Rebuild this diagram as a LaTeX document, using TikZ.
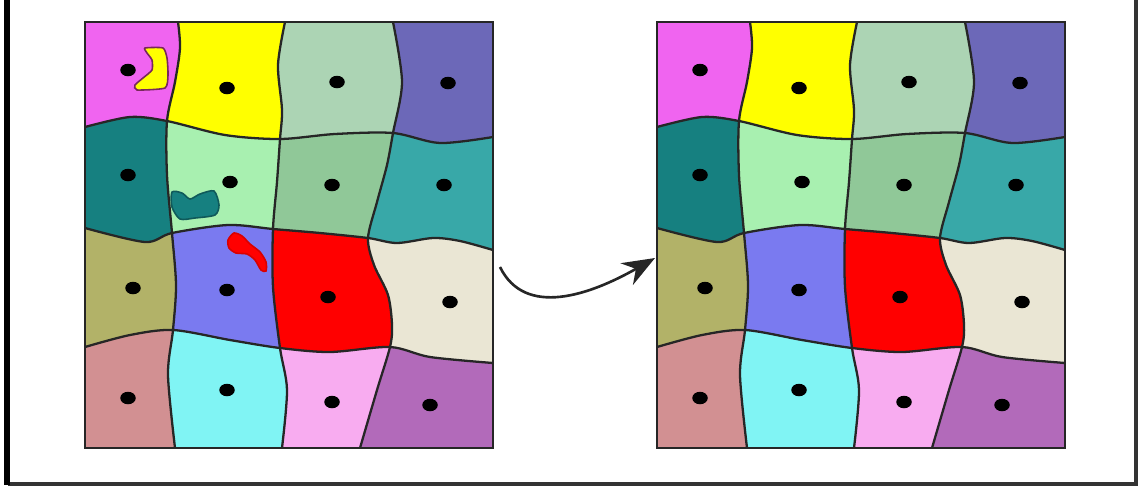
\documentclass[tikz,border=0pt]{standalone}
\usetikzlibrary{arrows.meta,shapes.geometric}

\definecolor{cellmagenta}{RGB}{240,100,240}
\definecolor{cellyellow}{RGB}{255,255,0}
\definecolor{cellpalesage}{RGB}{172,212,180}
\definecolor{cellslate}{RGB}{108,104,184}
\definecolor{cellteal}{RGB}{22,128,128}
\definecolor{cellmint}{RGB}{168,240,176}
\definecolor{cellsage}{RGB}{144,200,152}
\definecolor{cellseagreen}{RGB}{56,168,168}
\definecolor{cellolive}{RGB}{178,178,104}
\definecolor{cellperiwinkle}{RGB}{122,122,240}
\definecolor{cellred}{RGB}{255,0,0}
\definecolor{cellcream}{RGB}{234,230,212}
\definecolor{cellrose}{RGB}{210,144,146}
\definecolor{cellcyan}{RGB}{128,244,244}
\definecolor{cellpink}{RGB}{248,172,240}
\definecolor{cellorchid}{RGB}{178,106,186}
\definecolor{islandedge}{RGB}{120,40,90}

\tikzset{
  cellline/.style={draw=black!85, line width=1.3pt},
  seed/.style={ellipse, fill=black, inner sep=0pt, minimum width=0.31cm, minimum height=0.25cm},
  island/.style={line width=0.9pt},
  flow/.style={-{Stealth[length=6.5mm,width=5mm]}, line width=1.5pt, draw=black!85}
}

% cell boundaries (pixel units), vertical ones top to bottom
\def\vcurveO{(85,22) -- (85,448)}
\def\vcurveA{plot[smooth] coordinates {(178,22) (180,48) (175,82) (167,121) (167,175) (172,233) (176,285) (173,330) (168,375) (175,448)}}
\def\vcurveB{plot[smooth] coordinates {(285,22) (278,65) (282,110) (280,139) (277,182) (273,229) (273,287) (280,348) (287,390) (282,448)}}
\def\vcurveC{plot[smooth] coordinates {(393,22) (402,82) (393,133) (387,165) (377,202) (368,238) (374,265) (388,295) (392,325) (390,347) (377,390) (360,448)}}
\def\vcurveD{(493,22) -- (493,448)}
% horizontal ones left to right
\def\hcurveO{(85,22) -- (493,22)}
\def\hcurveA{plot[smooth] coordinates {(85,127) (130,117) (167,121) (225,135) (280,139) (335,134) (393,133) (440,143) (493,137)}}
\def\hcurveB{plot[smooth] coordinates {(85,228) (145,242) (172,233) (228,225) (273,229) (320,233) (368,238) (397,243) (433,238) (460,241) (493,250)}}
\def\hcurveC{plot[smooth] coordinates {(85,347) (130,335) (173,330) (230,340) (280,348) (330,352) (390,347) (430,357) (493,363)}}
\def\hcurveD{(85,448) -- (493,448)}

% #1 colour, #2 left, #3 right, #4 top, #5 bottom boundary
\newcommand{\fillcell}[5]{%
  \begin{scope}
    \clip #2 -- (600,500) -- (600,0) -- cycle;
    \clip #3 -- (0,500) -- (0,0) -- cycle;
    \clip #4 -- (600,500) -- (0,500) -- cycle;
    \clip #5 -- (600,0) -- (0,0) -- cycle;
    \fill[#1] (85,22) rectangle (493,448);
  \end{scope}}

\newcommand{\voronoigrid}[1]{%
  % cells
  \fillcell{cellmagenta}{\vcurveO}{\vcurveA}{\hcurveO}{\hcurveA}
  \fillcell{cellyellow}{\vcurveA}{\vcurveB}{\hcurveO}{\hcurveA}
  \fillcell{cellpalesage}{\vcurveB}{\vcurveC}{\hcurveO}{\hcurveA}
  \fillcell{cellslate}{\vcurveC}{\vcurveD}{\hcurveO}{\hcurveA}
  \fillcell{cellteal}{\vcurveO}{\vcurveA}{\hcurveA}{\hcurveB}
  \fillcell{cellmint}{\vcurveA}{\vcurveB}{\hcurveA}{\hcurveB}
  \fillcell{cellsage}{\vcurveB}{\vcurveC}{\hcurveA}{\hcurveB}
  \fillcell{cellseagreen}{\vcurveC}{\vcurveD}{\hcurveA}{\hcurveB}
  \fillcell{cellolive}{\vcurveO}{\vcurveA}{\hcurveB}{\hcurveC}
  \fillcell{cellperiwinkle}{\vcurveA}{\vcurveB}{\hcurveB}{\hcurveC}
  \fillcell{cellred}{\vcurveB}{\vcurveC}{\hcurveB}{\hcurveC}
  \fillcell{cellcream}{\vcurveC}{\vcurveD}{\hcurveB}{\hcurveC}
  \fillcell{cellrose}{\vcurveO}{\vcurveA}{\hcurveC}{\hcurveD}
  \fillcell{cellcyan}{\vcurveA}{\vcurveB}{\hcurveC}{\hcurveD}
  \fillcell{cellpink}{\vcurveB}{\vcurveC}{\hcurveC}{\hcurveD}
  \fillcell{cellorchid}{\vcurveC}{\vcurveD}{\hcurveC}{\hcurveD}
  % borders
  \draw[cellline] \vcurveA;
  \draw[cellline] \vcurveB;
  \draw[cellline] \vcurveC;
  \draw[cellline] \hcurveA;
  \draw[cellline] \hcurveB;
  \draw[cellline] \hcurveC;
  \draw[cellline] (85,22) rectangle (493,448);
  % seeds
  \node (#1s11) at (128,70) [seed] {};
  \node (#1s12) at (227,88) [seed] {};
  \node (#1s13) at (337,82) [seed] {};
  \node (#1s14) at (448,83) [seed] {};
  \node (#1s21) at (128,175) [seed] {};
  \node (#1s22) at (230,182) [seed] {};
  \node (#1s23) at (332,185) [seed] {};
  \node (#1s24) at (444,185) [seed] {};
  \node (#1s31) at (133,288) [seed] {};
  \node (#1s32) at (227,290) [seed] {};
  \node (#1s33) at (328,297) [seed] {};
  \node (#1s34) at (450,302) [seed] {};
  \node (#1s41) at (128,398) [seed] {};
  \node (#1s42) at (227,390) [seed] {};
  \node (#1s43) at (332,402) [seed] {};
  \node (#1s44) at (430,405) [seed] {};
}

\begin{document}
\begin{tikzpicture}[x=0.02cm, y=-0.02cm]
    \useasboundingbox (0,0) rectangle (1138,488);

    % Frame
    \draw[line width=2pt, black!80] (8,484) -- (1136,484) -- (1136,0);
    \draw[line width=3pt, black] (7,0) -- (7,485);

    % Left diagram
    \voronoigrid{l}

    % Stray pieces in the left diagram
    \filldraw[island, fill=cellyellow, draw=islandedge] plot[smooth cycle, tension=0.35] coordinates {(145,48) (163,48) (167,58) (168,75) (165,88) (137,90) (135,85) (143,78) (152,70) (152,60) (147,53)};
    \filldraw[island, fill=cellteal, draw=cellteal!70!black] plot[smooth cycle, tension=0.45] coordinates {(172,192) (182,193) (190,199) (200,194) (214,191) (219,205) (215,215) (195,218) (180,219) (172,207)};
    \filldraw[island, fill=cellred, draw=cellred!85!black] plot[smooth cycle, tension=0.45] coordinates {(228,240) (234,233) (242,236) (250,244) (260,252) (266,262) (266,271) (261,270) (255,260) (247,254) (236,253) (229,248)};

    % Right diagram
    \begin{scope}[shift={(572,0)}]
        \voronoigrid{r}
    \end{scope}

    % Arrow
    \coordinate (from) at (500,267);
    \coordinate (to) at (655,258);
    \draw[flow] (from) .. controls (525,318) and (590,295) .. (to);
\end{tikzpicture}
\end{document}
